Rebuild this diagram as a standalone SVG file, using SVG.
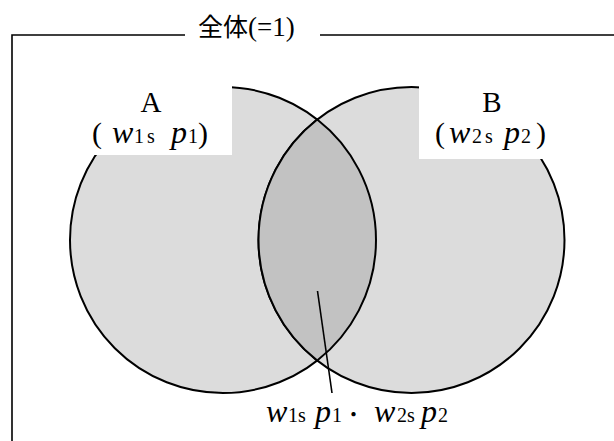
<svg xmlns="http://www.w3.org/2000/svg" width="614" height="441" viewBox="0 0 614 441">
<style>
.frame{fill:none;stroke:#000;stroke-width:1.6}
.circ{fill:#dcdcdc;stroke:#000;stroke-width:2}
.lens{fill:#c2c2c2;stroke:#000;stroke-width:2}
.mask{fill:#fff}
.t{font-family:"Liberation Serif","Times New Roman",serif;fill:#000}
.big{font-size:29px}
.par{font-size:30px}
.it{font-style:italic;font-size:32px}
.sub{font-size:20px;font-style:normal}
.cjk{font-family:"Noto Sans CJK JP","Noto Sans CJK SC",sans-serif}
.lead{stroke:#000;stroke-width:1.6;fill:none}
</style>
<rect width="614" height="441" fill="#fff"/>
<g id="frame">
<path class="frame" d="M12 441 V35 H185 M320 35 H614"/>
<text class="t" y="36"><tspan class="cjk" x="198" font-size="25">全体</tspan><tspan x="248" font-size="27">(=1)</tspan></text>
</g>
<g id="nodeA">
<circle class="circ" cx="223" cy="240" r="153"/>
<rect class="mask" x="60" y="78" width="172" height="77"/>
<text class="t big" x="151" y="112" text-anchor="middle">A</text>
<text class="t" y="143"><tspan class="par" x="92">(</tspan><tspan class="it" x="112">w</tspan><tspan class="sub" x="134">1</tspan><tspan class="sub" x="147">s</tspan><tspan class="it" x="171">p</tspan><tspan class="sub" x="188">1</tspan><tspan class="par" x="198">)</tspan></text>
</g>
<g id="nodeB">
<circle class="circ" cx="411.5" cy="240" r="153"/>
<rect class="mask" x="419" y="78" width="160" height="81"/>
<text class="t big" x="492" y="112" text-anchor="middle">B</text>
<text class="t" y="143"><tspan class="par" x="435">(</tspan><tspan class="it" x="449">w</tspan><tspan class="sub" x="472">2</tspan><tspan class="sub" x="485">s</tspan><tspan class="it" x="504">p</tspan><tspan class="sub" x="521">2</tspan><tspan class="par" x="536">)</tspan></text>
</g>
<g id="overlap">
<path class="lens" d="M317.25 119.48 A153 153 0 0 1 317.25 360.52 A153 153 0 0 1 317.25 119.48 Z"/>
</g>
<g id="connectors">
<line class="lead" x1="317.5" y1="291" x2="332" y2="393"/>
</g>
<g id="overlap-label">
<text class="t" y="422"><tspan class="it" x="266">w</tspan><tspan class="sub" x="288">1</tspan><tspan class="sub" x="298">s</tspan><tspan class="it" x="315">p</tspan><tspan class="sub" x="332">1</tspan><tspan class="cjk" x="343.5" font-size="20">・</tspan><tspan class="it" x="374">w</tspan><tspan class="sub" x="397">2</tspan><tspan class="sub" x="407">s</tspan><tspan class="it" x="421">p</tspan><tspan class="sub" x="438">2</tspan></text>
</g>
</svg>
